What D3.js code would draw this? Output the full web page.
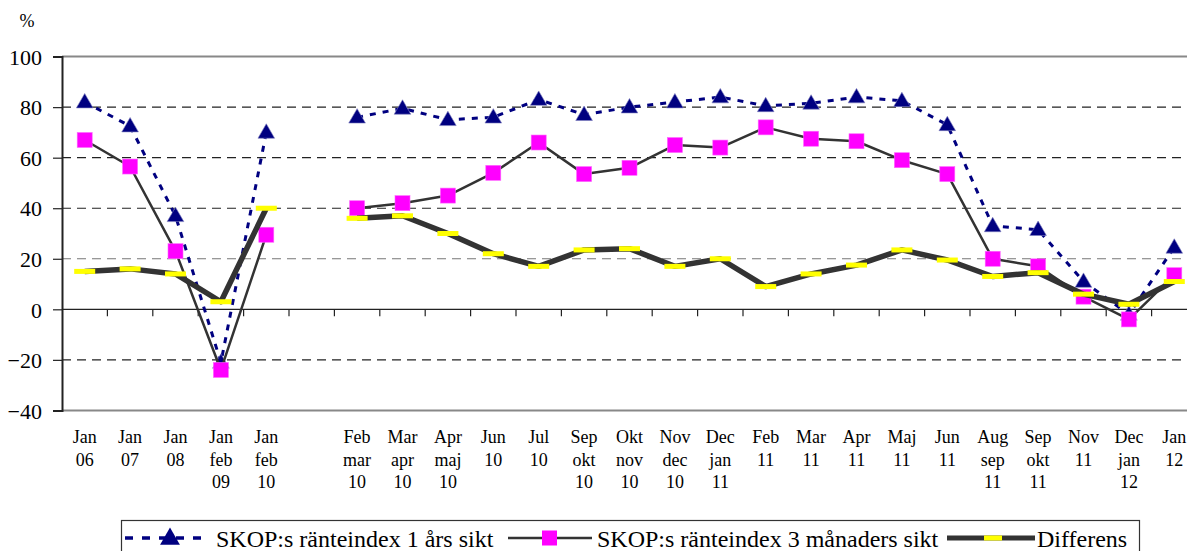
<!DOCTYPE html>
<html>
<head>
<meta charset="utf-8">
<script src="https://cdn.jsdelivr.net/npm/d3@7"></script>
<style>
  body { margin: 0; background: #fff; }
  svg { display: block; font-family: "Liberation Serif", "Times New Roman", serif; }
  svg text { font-family: "Liberation Serif", "Times New Roman", serif; }
</style>
</head>
<body>
<svg id="chart" width="1187" height="551"></svg>
<script>
"use strict";

// ==========================
// data
// ==========================
var categories = [
  ["Jan", "06"], ["Jan", "07"], ["Jan", "08"], ["Jan", "feb", "09"], ["Jan", "feb", "10"],
  [],
  ["Feb", "mar", "10"], ["Mar", "apr", "10"], ["Apr", "maj", "10"], ["Jun", "10"], ["Jul", "10"],
  ["Sep", "okt", "10"], ["Okt", "nov", "10"], ["Nov", "dec", "10"], ["Dec", "jan", "11"],
  ["Feb", "11"], ["Mar", "11"], ["Apr", "11"], ["Maj", "11"], ["Jun", "11"],
  ["Aug", "sep", "11"], ["Sep", "okt", "11"], ["Nov", "11"], ["Dec", "jan", "12"], ["Jan", "12"]
];
var ettAr = [82, 72.5, 37, -21, 70, null, 76, 79.5, 75, 76, 83, 77, 80, 82, 84, 80.5, 81.5, 84, 82.5, 73, 33, 31.5, 11, -2, 24.5];
var treManader = [67, 56.5, 23, -24, 29.5, null, 40, 42, 45, 54, 66, 53.5, 56, 65, 64, 72, 67.5, 66.5, 59, 53.5, 20, 17, 5, -4, 13.5];
var differens = [15, 16, 14, 3, 40, null, 36, 37, 30, 22, 17, 23.5, 24, 17, 20, 9, 14, 17.5, 23.5, 19.5, 13, 14.5, 6, 2, 11];
var yTicks = [-40, -20, 0, 20, 40, 60, 80, 100];
var legendNames = ["SKOP:s ränteindex 1 års sikt", "SKOP:s ränteindex 3 månaders sikt", "Differens"];

// ==========================
// scales
// ==========================
var svg = d3.select("#chart");
var plotLeft = 62, plotRight = 1197, plotTop = 56.6, plotBottom = 410.4;

var x = d3.scaleBand().domain(d3.range(categories.length)).range([plotLeft, plotRight]);
var y = d3.scaleLinear().domain([-40, 100]).range([plotBottom, plotTop]);
var cx = function (i) { return x(i) + x.bandwidth() / 2; };

// ==========================
// grid + axes
// ==========================
var grid = svg.append("g");
grid.selectAll("line").data(yTicks.filter(function (d) { return d != 0 && d != 100 && d != -40; }))
  .enter().append("line")
  .attr("x1", plotLeft).attr("x2", plotRight)
  .attr("y1", function (d) { return y(d); }).attr("y2", function (d) { return y(d); })
  .attr("stroke", function (d) { return d == 20 ? "#777" : "#222"; })
  .attr("stroke-width", 1.2)
  .attr("stroke-dasharray", "9,6");

// top and bottom frame lines
svg.append("line").attr("x1", plotLeft).attr("x2", plotRight).attr("y1", y(100)).attr("y2", y(100))
  .attr("stroke", "#888").attr("stroke-width", 2);
svg.append("line").attr("x1", plotLeft).attr("x2", plotRight).attr("y1", y(-40)).attr("y2", y(-40))
  .attr("stroke", "#888").attr("stroke-width", 2);

// y axis
var yAxis = svg.append("g").attr("transform", "translate(" + plotLeft + ",0)")
  .call(d3.axisLeft(y).tickValues(yTicks).tickSize(9).tickPadding(11).tickFormat(d3.format("d")));
yAxis.attr("font-family", null).attr("font-size", null);
yAxis.select(".domain").attr("stroke", "#222").attr("stroke-width", 2);
yAxis.selectAll(".tick line").attr("stroke", "#222").attr("stroke-width", 1.2);
yAxis.selectAll("text").style("font-size", "22px").attr("fill", "#000").attr("dy", "0.35em");

svg.append("text").attr("x", 27).attr("y", 27).attr("text-anchor", "middle")
  .style("font-size", "18px").text("%");

// zero line with category ticks
var xAxis = svg.append("g").attr("transform", "translate(0," + y(0) + ")");
xAxis.append("line").attr("x1", plotLeft).attr("x2", plotRight).attr("stroke", "#222").attr("stroke-width", 1.2);
xAxis.selectAll(".tk").data(d3.range(1, categories.length)).enter().append("line")
  .attr("class", "tk")
  .attr("x1", function (d) { return x(d); }).attr("x2", function (d) { return x(d); })
  .attr("y1", 0).attr("y2", 7).attr("stroke", "#222").attr("stroke-width", 1.2);

// category labels
var lab = svg.append("g").style("font-size", "18px").attr("text-anchor", "middle");
categories.forEach(function (lines, i) {
  lines.forEach(function (s, j) {
    lab.append("text").attr("x", cx(i)).attr("y", 443 + j * 22.5).text(s);
  });
});

// ==========================
// series
// ==========================
function drawLine(data, stroke, width, dash) {
  var line = d3.line()
    .defined(function (d) { return d != null; })
    .x(function (d, i) { return cx(i); })
    .y(function (d) { return y(d); });
  svg.append("path").datum(data).attr("d", line)
    .attr("fill", "none").attr("stroke", stroke).attr("stroke-width", width)
    .attr("stroke-dasharray", dash || null).attr("stroke-linejoin", "round");
}

var tri = d3.symbol().type(d3.symbolTriangle).size(120);
var pts = function (data) {
  return data.map(function (d, i) { return { v: d, i: i }; }).filter(function (d) { return d.v != null; });
};

// 1 års sikt
drawLine(ettAr, "#000080", 3, "6,7");
svg.append("g").selectAll("path").data(pts(ettAr)).enter().append("path")
  .attr("d", tri)
  .attr("transform", function (d) { return "translate(" + cx(d.i) + "," + (y(d.v) + 1) + ")"; })
  .attr("fill", "#000080").attr("stroke", "#8080c0").attr("stroke-width", 0.6);

// 3 månaders sikt
drawLine(treManader, "#333", 2.5);
svg.append("g").selectAll("rect").data(pts(treManader)).enter().append("rect")
  .attr("x", function (d) { return cx(d.i) - 7.5; })
  .attr("y", function (d) { return y(d.v) - 7.5; })
  .attr("width", 15).attr("height", 15)
  .attr("fill", "#ff00ff").attr("stroke", "#ff66ff").attr("stroke-width", 0.6);

// Differens
drawLine(differens, "#333", 5.5);
svg.append("g").selectAll("rect").data(pts(differens)).enter().append("rect")
  .attr("x", function (d) { return cx(d.i) - 10.5; })
  .attr("y", function (d) { return y(d.v) - 2.5; })
  .attr("width", 21).attr("height", 5)
  .attr("fill", "#ffff00");

// ==========================
// legend
// ==========================
var lg = svg.append("g");
lg.append("rect").attr("x", 121.5).attr("y", 520.5).attr("width", 1018).attr("height", 40)
  .attr("fill", "#fff").attr("stroke", "#333").attr("stroke-width", 1.2);
var ly = 538;

lg.append("line").attr("x1", 125).attr("x2", 208).attr("y1", ly).attr("y2", ly)
  .attr("stroke", "#000080").attr("stroke-width", 3.5).attr("stroke-dasharray", "8,9");
lg.append("path").attr("d", d3.symbol().type(d3.symbolTriangle).size(170))
  .attr("transform", "translate(170," + (ly + 1) + ")").attr("fill", "#000080");

lg.append("line").attr("x1", 508).attr("x2", 592).attr("y1", ly).attr("y2", ly)
  .attr("stroke", "#333").attr("stroke-width", 2.5);
lg.append("rect").attr("x", 542).attr("y", ly - 7.5).attr("width", 15).attr("height", 15).attr("fill", "#ff00ff");

lg.append("line").attr("x1", 947).attr("x2", 1035).attr("y1", ly).attr("y2", ly)
  .attr("stroke", "#333").attr("stroke-width", 5);
lg.append("rect").attr("x", 984).attr("y", ly - 2.5).attr("width", 18).attr("height", 5).attr("fill", "#ffff00");

lg.selectAll("text").data(legendNames).enter().append("text")
  .attr("x", function (d, i) { return [216, 597, 1037][i]; })
  .attr("y", 546.5).style("font-size", "24px").text(function (d) { return d; });
</script>
</body>
</html>
